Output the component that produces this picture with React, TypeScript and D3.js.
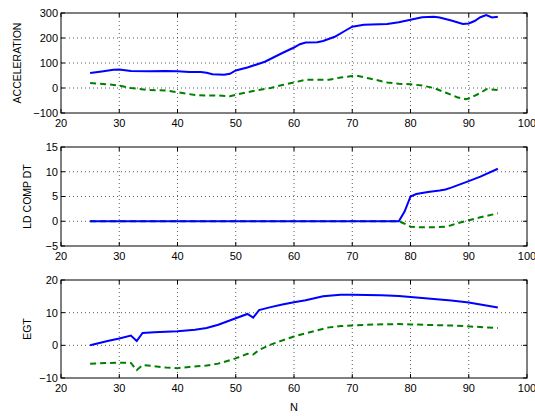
import { useEffect, useRef } from 'react';
import * as d3 from 'd3';

const WIDTH = 535;
const HEIGHT = 416;
const PLOT_LEFT = 61;
const PLOT_RIGHT = 527;

// N values shared by the x axis
const xTicks = [20, 30, 40, 50, 60, 70, 80, 90, 100];

// ACCELERATION panel
const accelBlueN = [25, 27, 29, 30, 31, 32, 35, 38, 40, 42, 44, 45, 46, 48, 49, 50, 52, 55, 58, 60, 61, 62, 64, 65, 67, 69, 70, 72, 76, 78, 80, 82, 84, 85, 87, 89, 90, 91, 92, 93, 94, 95];
const accelBlue = [60, 66, 73, 74, 71, 68, 67, 68, 67, 64, 64, 61, 55, 53, 57, 70, 82, 105, 140, 162, 175, 182, 183, 188, 205, 232, 245, 253, 256, 263, 273, 283, 285, 282, 270, 256, 258, 268, 283, 292, 282, 285];
const accelGreenN = [25, 28, 30, 32, 35, 38, 40, 43, 45, 47, 49, 50, 53, 56, 58, 60, 62, 64, 66, 68, 70, 71, 73, 76, 78, 80, 82, 84, 86, 88, 89.5, 90, 92, 93, 95];
const accelGreen = [20, 15, 10, 0, -8, -10, -17, -28, -30, -30, -33, -27, -12, 0, 12, 22, 33, 33, 33, 42, 48, 48, 38, 22, 17, 15, 10, 0, -18, -37, -45, -42, -20, -5, -8];
const accelTicks = [-100, 0, 100, 200, 300];

// LD COMP DT panel
const ldBlueN = [25, 78, 79, 80, 81, 83, 85, 86, 87, 90, 92, 95];
const ldBlue = [0, 0, 2, 5, 5.5, 5.9, 6.2, 6.4, 6.8, 8.1, 9, 10.6];
const ldGreenN = [25, 78, 79, 80, 81, 84, 86, 87, 88, 90, 92, 95];
const ldGreen = [0, 0, -0.5, -1.1, -1.2, -1.2, -1.1, -0.8, -0.4, 0.2, 0.8, 1.6];
const ldTicks = [-5, 0, 5, 10, 15];

// EGT panel
const egtBlueN = [25, 28, 30, 32, 33, 34, 36, 40, 43, 45, 47, 50, 52, 53, 54, 56, 58, 60, 62, 65, 68, 70, 75, 78, 80, 83, 87, 90, 92, 95];
const egtBlue = [0, 1.3, 2.1, 3.0, 1.3, 3.8, 4.0, 4.3, 4.8, 5.3, 6.3, 8.3, 9.6, 8.5, 10.8, 11.7, 12.5, 13.2, 13.8, 15.0, 15.5, 15.5, 15.3, 15.1, 14.8, 14.3, 13.7, 13.1, 12.5, 11.6];
const egtGreenN = [25, 28, 30, 32, 33, 34, 36, 38, 40, 42, 45, 47, 50, 52, 53, 54, 56, 58, 60, 62, 64, 66, 68, 70, 74, 78, 80, 84, 88, 91, 95];
const egtGreen = [-5.6, -5.4, -5.3, -5.4, -7.6, -6.0, -6.4, -6.8, -7.0, -6.6, -6.2, -5.6, -4.0, -2.6, -2.8, -1.4, 0.2, 1.5, 2.7, 3.7, 4.6, 5.5, 5.9, 6.1, 6.4, 6.5, 6.4, 6.2, 6.0, 5.7, 5.3];
const egtTicks = [-10, 0, 10, 20];

const panels = [
  { label: 'ACCELERATION', top: 13, bottom: 113, labelX: 21, ticks: accelTicks, blueN: accelBlueN, blue: accelBlue, greenN: accelGreenN, green: accelGreen },
  { label: 'LD COMP DT', top: 147, bottom: 246, labelX: 31, ticks: ldTicks, blueN: ldBlueN, blue: ldBlue, greenN: ldGreenN, green: ldGreen },
  { label: 'EGT', top: 280, bottom: 378, labelX: 31, ticks: egtTicks, blueN: egtBlueN, blue: egtBlue, greenN: egtGreenN, green: egtGreen },
];

const fmt = (v: number) => (v < 0 ? '\u2212' + Math.abs(v) : String(v));

export default function App() {
  const svgRef = useRef<SVGSVGElement>(null);

  useEffect(() => {
    if (!svgRef.current) return;
    const svg = d3.select(svgRef.current);
    svg.selectAll('*').remove();

    const x = d3.scaleLinear().domain([20, 100]).range([PLOT_LEFT, PLOT_RIGHT]);

    panels.forEach(p => {
      const y = d3
        .scaleLinear()
        .domain([p.ticks[0], p.ticks[p.ticks.length - 1]])
        .range([p.bottom, p.top]);
      const g = svg.append('g');

      // fond blanc
      g.append('rect')
        .attr('x', PLOT_LEFT)
        .attr('y', p.top)
        .attr('width', PLOT_RIGHT - PLOT_LEFT)
        .attr('height', p.bottom - p.top)
        .attr('fill', '#fff');

      // grille pointillée
      xTicks.slice(1, -1).forEach(t => {
        g.append('line')
          .attr('x1', x(t)).attr('x2', x(t))
          .attr('y1', p.top).attr('y2', p.bottom)
          .attr('stroke', '#333').attr('stroke-width', 0.8)
          .attr('stroke-dasharray', '1,3');
      });
      p.ticks.slice(1, -1).forEach(t => {
        g.append('line')
          .attr('x1', PLOT_LEFT).attr('x2', PLOT_RIGHT)
          .attr('y1', y(t)).attr('y2', y(t))
          .attr('stroke', '#333').attr('stroke-width', 0.8)
          .attr('stroke-dasharray', '1,3');
      });

      // ticks intérieurs sur les 4 côtés
      xTicks.forEach(t => {
        g.append('line').attr('x1', x(t)).attr('x2', x(t)).attr('y1', p.bottom).attr('y2', p.bottom - 4).attr('stroke', '#000');
        g.append('line').attr('x1', x(t)).attr('x2', x(t)).attr('y1', p.top).attr('y2', p.top + 4).attr('stroke', '#000');
      });
      p.ticks.forEach(t => {
        g.append('line').attr('x1', PLOT_LEFT).attr('x2', PLOT_LEFT + 4).attr('y1', y(t)).attr('y2', y(t)).attr('stroke', '#000');
        g.append('line').attr('x1', PLOT_RIGHT).attr('x2', PLOT_RIGHT - 4).attr('y1', y(t)).attr('y2', y(t)).attr('stroke', '#000');
      });

      // séries
      const line = d3
        .line<[number, number]>()
        .x(d => x(d[0]))
        .y(d => y(d[1]));

      g.append('path')
        .datum(p.greenN.map((n, i) => [n, p.green[i]] as [number, number]))
        .attr('d', line)
        .attr('fill', 'none')
        .attr('stroke', '#008000')
        .attr('stroke-width', 2)
        .attr('stroke-dasharray', '6,4');

      g.append('path')
        .datum(p.blueN.map((n, i) => [n, p.blue[i]] as [number, number]))
        .attr('d', line)
        .attr('fill', 'none')
        .attr('stroke', '#0000ff')
        .attr('stroke-width', 2);

      // cadre
      g.append('rect')
        .attr('x', PLOT_LEFT)
        .attr('y', p.top)
        .attr('width', PLOT_RIGHT - PLOT_LEFT)
        .attr('height', p.bottom - p.top)
        .attr('fill', 'none')
        .attr('stroke', '#000')
        .attr('stroke-width', 1);

      // labels des ticks
      g.selectAll('.xt')
        .data(xTicks)
        .join('text')
        .attr('x', d => x(d))
        .attr('y', p.bottom + 14)
        .attr('text-anchor', 'middle')
        .style('font-size', '11px')
        .text(d => fmt(d));

      g.selectAll('.yt')
        .data(p.ticks)
        .join('text')
        .attr('x', PLOT_LEFT - 3)
        .attr('y', d => y(d))
        .attr('dy', '0.35em')
        .attr('text-anchor', 'end')
        .style('font-size', '11px')
        .text(d => fmt(d));

      // label de l'axe Y
      g.append('text')
        .attr('transform', `translate(${p.labelX}, ${(p.top + p.bottom) / 2}) rotate(-90)`)
        .attr('text-anchor', 'middle')
        .style('font-size', '10.5px')
        .text(p.label);
    });

    svg.append('text')
      .attr('x', (PLOT_LEFT + PLOT_RIGHT) / 2)
      .attr('y', 411)
      .attr('text-anchor', 'middle')
      .style('font-size', '11px')
      .text('N');
  }, []);

  return (
    <svg
      ref={svgRef}
      width={WIDTH}
      height={HEIGHT}
      style={{ position: 'absolute', left: 0, top: 0, background: '#fff', fontFamily: '"Liberation Sans", Arial, sans-serif' }}
    />
  );
}
